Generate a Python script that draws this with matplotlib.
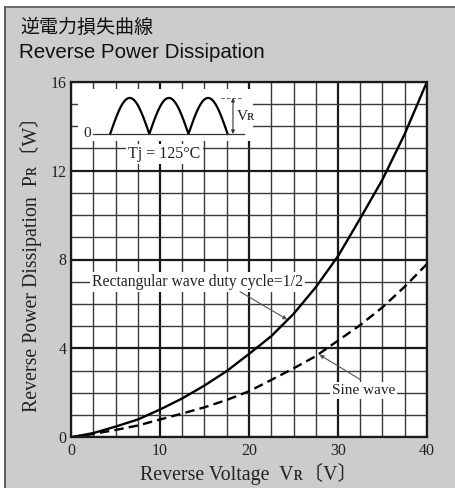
import numpy as np
import matplotlib
matplotlib.use('Agg')
import matplotlib.pyplot as plt
from matplotlib.ticker import MultipleLocator
from matplotlib.patches import Rectangle

# Values
voltage = [0, 2.5, 5, 7.5, 10, 12.5, 15, 17.5, 20, 22.5, 25, 27.5, 30, 32.5, 35, 37.5, 40]
rect_wave = [0, 0.19, 0.48, 0.8, 1.25, 1.75, 2.33, 2.98, 3.75, 4.55, 5.55, 6.75, 8.15, 9.85, 11.6, 13.65, 16.0]
sine_wave = [0, 0.15, 0.33, 0.53, 0.8, 1.07, 1.35, 1.68, 2.07, 2.58, 3.1, 3.65, 4.35, 5.05, 5.85, 6.78, 7.8]
x_ticks = [0, 10, 20, 30, 40]
y_ticks = [0, 4, 8, 12, 16]

serif = ['Liberation Serif', 'DejaVu Serif', 'Noto Sans CJK JP']
bg = '#cccccc'

fig = plt.figure(figsize=(4.56, 4.88), dpi=100)
fig.patch.set_facecolor(bg)

# Frame: white strip on top/left with dark rule
fig.add_artist(Rectangle((0, 0), 1, 1, transform=fig.transFigure, facecolor='white', edgecolor='none', zorder=-3))
fig.add_artist(Rectangle((5 / 456, 0), 1, 1 - 7 / 488, transform=fig.transFigure, facecolor=bg, edgecolor='none', zorder=-2))
fig.add_artist(plt.Line2D([5 / 456, 5 / 456], [0, 1 - 7 / 488], transform=fig.transFigure, color='#444444', lw=1.2))
fig.add_artist(plt.Line2D([5 / 456, 1], [1 - 7 / 488, 1 - 7 / 488], transform=fig.transFigure, color='#555555', lw=1.2))

# Titles
fig.text(20 / 456, 1 - 27 / 488, '逆電力損失曲線', family=['Noto Sans CJK JP'], fontsize=13.7, va='center', ha='left', color='#111111')
fig.text(19 / 456, 1 - 52 / 488, 'Reverse Power Dissipation', family=['Liberation Sans'], fontsize=14.8, va='center', ha='left', color='#111111')

ax = fig.add_axes([71 / 456, 50.7 / 488, 356 / 456, 355.6 / 488])
ax.set_facecolor('white')
ax.set_xlim(0, 40)
ax.set_ylim(0, 16)
ax.set_xticks(x_ticks)
ax.set_yticks(y_ticks)
ax.xaxis.set_minor_locator(MultipleLocator(2.5))
ax.yaxis.set_minor_locator(MultipleLocator(1))
ax.set_axisbelow(True)
ax.grid(which='major', color='#1a1a1a', lw=1.6)
ax.grid(which='minor', color='#3a3a3a', lw=1.0)
ax.tick_params(which='both', length=0)
ax.tick_params(axis='x', pad=4)
ax.tick_params(axis='y', pad=3)
for lbl in ax.get_xticklabels() + ax.get_yticklabels():
    lbl.set_family(serif)
    lbl.set_fontsize(11.5)
    lbl.set_color('#222222')
for sp in ax.spines.values():
    sp.set_linewidth(1.6)
    sp.set_color('#1a1a1a')

ax.set_xlabel('Reverse Voltage  Vʀ〔V〕', family=serif, fontsize=14.3, color='#222222', labelpad=3)
ax.set_ylabel('Reverse Power Dissipation  Pʀ〔W〕', family=serif, fontsize=14.3, color='#222222', labelpad=6)

# Curves
ax.plot(voltage, rect_wave, color='black', lw=1.7, solid_capstyle='butt')
ax.plot(voltage, sine_wave, color='black', lw=1.7, ls=(0, (4, 2.2)))

# Inset waveform sketch
ax.add_patch(Rectangle((0.8, 13.35), 19.6, 2.3, facecolor='white', edgecolor='none', zorder=1))
base, amp = 13.65, 1.62
arch_x = np.linspace(4.4, 17.6, 300)
arch_y = base + amp * np.abs(np.sin(np.pi * (arch_x - 4.4) / 4.4))
ax.plot(arch_x, arch_y, color='black', lw=1.6, zorder=3)
ax.plot([2.5, 19.4], [base, base], color='#333333', lw=0.9, zorder=3)
ax.plot([16.8, 19.3], [base + amp, base + amp], color='#666666', lw=0.8, ls=(0, (3, 2)), zorder=3)
ax.annotate('', xy=(18.2, base + amp), xytext=(18.2, base), zorder=3,
            arrowprops=dict(arrowstyle='<|-|>', color='#333333', lw=0.8, mutation_scale=5, shrinkA=0, shrinkB=0))
ax.text(2.3, base, '0', family=serif, fontsize=11, ha='right', va='center', color='#222222', zorder=4)
ax.text(18.6, 14.45, 'Vʀ', family=serif, fontsize=11, ha='left', va='center', color='#222222', zorder=4)
ax.text(10.5, 12.75, 'Tj = 125°C', family=serif, fontsize=11.5, ha='center', va='center', color='#222222', zorder=4,
        bbox=dict(facecolor='white', edgecolor='none', pad=1.5))

# Curve labels with leader lines
ax.text(14.2, 7.0, 'Rectangular wave duty cycle=1/2', family=serif, fontsize=11.3, ha='center', va='center',
        color='#222222', zorder=4, bbox=dict(facecolor='white', edgecolor='none', pad=1.5))
ax.annotate('', xy=(24.3, 5.3), xytext=(19.0, 6.55), zorder=4,
            arrowprops=dict(arrowstyle='-|>', color='#555555', lw=0.8, mutation_scale=6, shrinkA=0, shrinkB=0))
ax.text(32.85, 2.1, 'Sine wave', family=serif, fontsize=11, ha='center', va='center',
        color='#222222', zorder=4, bbox=dict(facecolor='white', edgecolor='none', pad=1.5))
ax.annotate('', xy=(27.9, 3.72), xytext=(32.5, 2.6), zorder=4,
            arrowprops=dict(arrowstyle='-|>', color='#555555', lw=0.8, mutation_scale=6, shrinkA=0, shrinkB=0))

fig.savefig('out.png', dpi=100, facecolor=fig.get_facecolor())
